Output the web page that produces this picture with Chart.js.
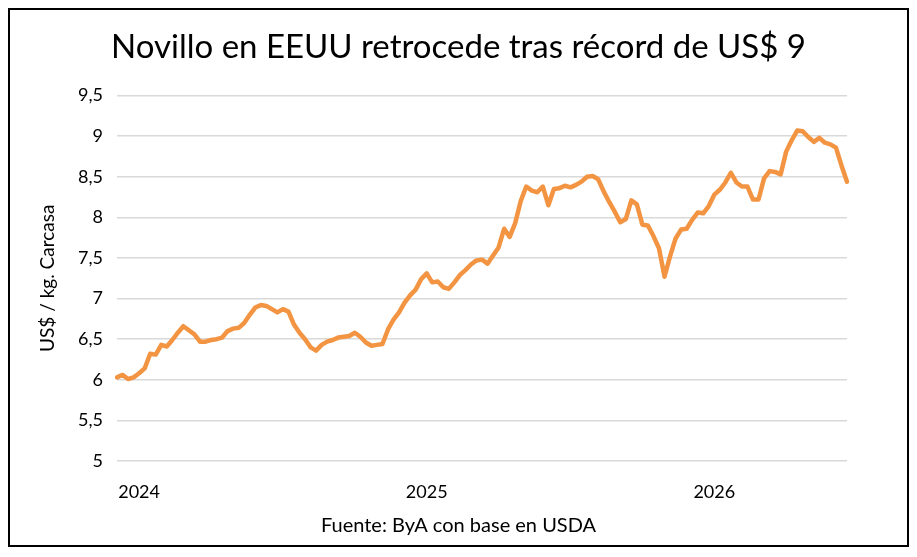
<!DOCTYPE html>
<html>
<head>
<meta charset="utf-8">
<script src="https://cdn.jsdelivr.net/npm/chart.js@4"></script>
<style>
  html, body { margin: 0; padding: 0; background: #fff; }
  #wrap { width: 917px; height: 557px; position: relative; }
</style>
</head>
<body>
<div id="wrap"><canvas id="myChart" width="917" height="557"></canvas></div>
<script>
// weekly price, US$ per kg carcass
let prices = [
    6.03, 6.06, 6.01, 6.03, 6.08, 6.14, 6.32, 6.31, 6.43, 6.41,
    6.49, 6.58, 6.66, 6.61, 6.56, 6.47, 6.47, 6.49, 6.50, 6.52,
    6.60, 6.63, 6.64, 6.70, 6.80, 6.89, 6.92, 6.91, 6.87, 6.83,
    6.87, 6.84, 6.68, 6.58, 6.50, 6.40, 6.36, 6.43, 6.47, 6.49,
    6.52, 6.53, 6.54, 6.58, 6.53, 6.46, 6.42, 6.43, 6.44, 6.62,
    6.74, 6.83, 6.95, 7.04, 7.11, 7.24, 7.31, 7.20, 7.21, 7.14,
    7.12, 7.20, 7.29, 7.35, 7.42, 7.47, 7.48, 7.43, 7.53, 7.63,
    7.86, 7.76, 7.93, 8.20, 8.38, 8.33, 8.31, 8.38, 8.15, 8.35,
    8.36, 8.39, 8.37, 8.40, 8.44, 8.50, 8.51, 8.47, 8.32, 8.19,
    8.07, 7.94, 7.98, 8.21, 8.16, 7.91, 7.90, 7.77, 7.62, 7.27,
    7.52, 7.74, 7.85, 7.86, 7.97, 8.06, 8.05, 8.14, 8.28, 8.34,
    8.43, 8.55, 8.43, 8.38, 8.38, 8.22, 8.22, 8.48, 8.57, 8.56,
    8.53, 8.81, 8.95, 9.07, 9.06, 8.99, 8.93, 8.98, 8.92, 8.90,
    8.86, 8.64, 8.44
];

// year labels sit on the first week of each year
let yearLabels = { 4: "2024", 56: "2025", 108: "2026" };
let weeks = prices.map((p, i) => yearLabels[i] || "");

let yTicks = [5, 5.5, 6, 6.5, 7, 7.5, 8, 8.5, 9, 9.5];

const font = "Lato, 'Open Sans', sans-serif";

// white background + black frame
const frame = {
    id: "frame",
    beforeDraw(chart) {
        let c = chart.ctx;
        c.save();
        c.fillStyle = "#fff";
        c.fillRect(0, 0, chart.width, chart.height);
        c.restore();
    },
    afterDraw(chart) {
        let c = chart.ctx;
        c.save();
        c.strokeStyle = "#000";
        c.lineWidth = 2;
        c.strokeRect(9, 9, 899, 537);
        c.restore();
    }
};

const ctx = document.getElementById("myChart");

let chart = new Chart(ctx, {
    type: "line",
    data: {
        labels: weeks,
        datasets: [{
            label: "Novillo",
            data: prices,
            borderColor: "#F39443",
            borderWidth: 4.5,
            pointRadius: 0,
            tension: 0,
            borderJoinStyle: "round",
            borderCapStyle: "round"
        }]
    },
    options: {
        responsive: false,
        animation: false,
        layout: { padding: 0 },
        plugins: {
            legend: { display: false },
            tooltip: { enabled: false },
            title: {
                display: true,
                text: "Novillo en EEUU retrocede tras récord de US$ 9",
                color: "#000",
                font: { family: font, size: 33, weight: "normal" },
                padding: { top: 28, bottom: 28 }
            },
            subtitle: {
                display: true,
                position: "bottom",
                text: "Fuente: ByA con base en USDA",
                color: "#000",
                font: { family: font, size: 20, weight: "normal" },
                padding: { top: 3, bottom: 19 }
            }
        },
        scales: {
            x: {
                grid: { display: false, drawTicks: false },
                border: { display: false },
                ticks: {
                    autoSkip: false,
                    maxRotation: 0,
                    padding: 20,
                    color: "#000",
                    font: { family: font, size: 18 },
                    callback: (v, i) => weeks[i]
                },
                afterFit: (s) => { s.height = 50; }
            },
            y: {
                min: 5,
                max: 9.5,
                afterBuildTicks: (s) => { s.ticks = yTicks.map(v => ({ value: v })); },
                grid: { color: "#D9D9D9", lineWidth: 1.5, drawTicks: false },
                border: { display: false },
                ticks: {
                    padding: 14,
                    color: "#000",
                    font: { family: font, size: 18 },
                    callback: (v) => v.toString().replace(".", ",")
                },
                title: {
                    display: true,
                    text: "US$ / kg. Carcasa",
                    color: "#000",
                    font: { family: font, size: 19 },
                    padding: { top: 36, bottom: 0 }
                },
                afterFit: (s) => { s.width = 117; }
            },
            // empty right axis, keeps the white margin on the right
            yRight: {
                type: "linear",
                position: "right",
                display: true,
                grid: { display: false, drawTicks: false },
                border: { display: false },
                ticks: { display: false },
                afterFit: (s) => { s.width = 70; }
            }
        }
    },
    plugins: [frame]
});
</script>
</body>
</html>
